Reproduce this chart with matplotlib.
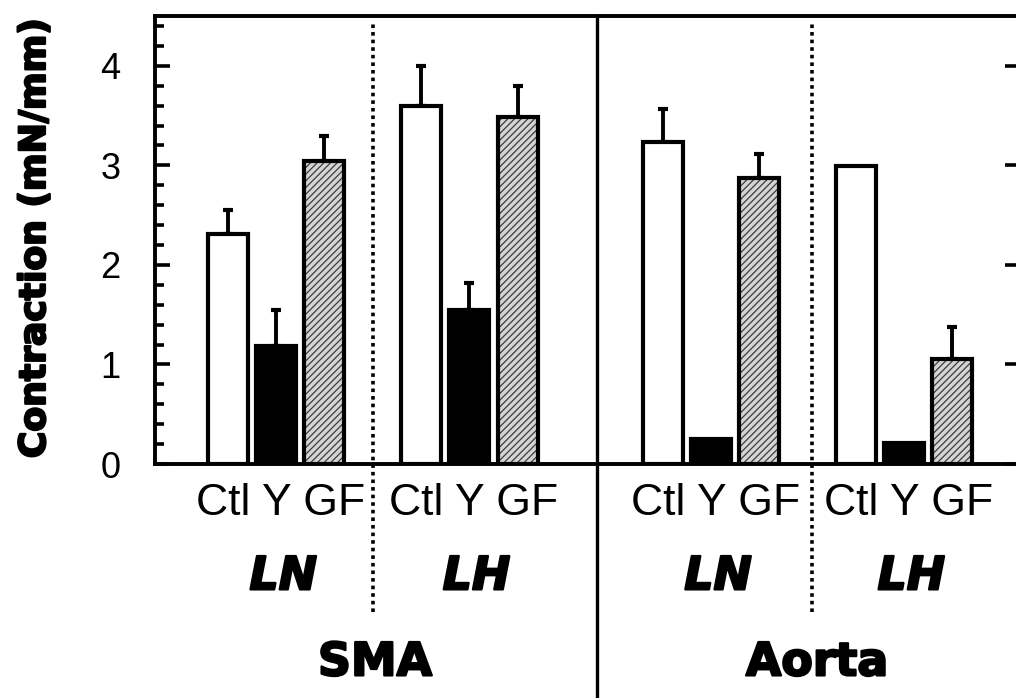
import numpy as np
import matplotlib
matplotlib.use('Agg')
import matplotlib.pyplot as plt
import matplotlib.transforms as mtransforms
import matplotlib.patheffects as pe
from matplotlib.ticker import MultipleLocator

# data (mN/mm), order Ctl, Y, GF
conditions = ['Ctl', 'Y', 'GF']
diets = ['LN', 'LH', 'LN', 'LH']
tissues = ['SMA', 'Aorta']

sma_ln = [2.31, 1.19, 3.04]
sma_ln_err = [0.24, 0.36, 0.26]
sma_lh = [3.60, 1.55, 3.49]
sma_lh_err = [0.40, 0.27, 0.31]
aorta_ln = [3.23, 0.25, 2.87]
aorta_ln_err = [0.34, 0.0, 0.24]
aorta_lh = [2.99, 0.21, 1.06]
aorta_lh_err = [0.0, 0.0, 0.32]

values = [sma_ln, sma_lh, aorta_ln, aorta_lh]
errors = [sma_ln_err, sma_lh_err, aorta_ln_err, aorta_lh_err]
group_start = [0, 4, 9, 13]

faces = ['white', 'black', '#d4d4d4']
W = 0.83
LW = 3.0

plt.rcParams['hatch.linewidth'] = 0.9
heavy = [pe.withStroke(linewidth=1.6, foreground='black')]

fig = plt.figure(figsize=(10.16, 6.98), dpi=100)
ax = fig.add_axes([0.1526, 0.3352, 0.8514, 0.6418])

for g in range(4):
    x = group_start[g] + np.arange(3)
    v = np.array(values[g])
    e = np.array(errors[g])
    for i in range(3):
        if i == 2:
            # hatched fill in grey, then black outline on top
            ax.bar(x[i], v[i], W, color=faces[i], edgecolor='#3c3c3c', linewidth=0,
                   hatch='/////', zorder=2)
            ax.bar(x[i], v[i], W, fill=False, edgecolor='black', linewidth=LW, zorder=3)
        else:
            ax.bar(x[i], v[i], W, color=faces[i], edgecolor='black', linewidth=LW, zorder=3)
    m = e > 0
    ax.errorbar(x[m], v[m], yerr=[np.zeros(m.sum()), e[m]], fmt='none', ecolor='black',
                elinewidth=2.8, capsize=3.8, capthick=3.0, zorder=1)

ax.set_xlim(-1.505, 16.4)
ax.set_ylim(0, 4.5)
ax.set_xticks([])
ax.yaxis.set_major_locator(MultipleLocator(1))
ax.yaxis.set_minor_locator(MultipleLocator(0.2))
ax.tick_params(axis='y', which='major', direction='in', length=11, width=2.6,
               right=True, pad=25, labelsize=26)
ax.tick_params(axis='y', which='minor', direction='in', length=6.5, width=2.6, right=False)
for lab in ax.get_yticklabels():
    lab.set_fontfamily('Liberation Sans')
for s in ax.spines.values():
    s.set_linewidth(2.8)

# separators
ax.axvline(7.65, ymin=-0.6, ymax=1, color='black', lw=2.4, clip_on=False, zorder=5)
for xs in [3.0, 12.1]:
    ax.axvline(xs, ymin=-0.33, ymax=0.99, color='black', lw=2.6,
               linestyle=(0, (1, 1.1)), clip_on=False, zorder=5)

trans = mtransforms.blended_transform_factory(ax.transData, ax.transAxes)
for g in range(4):
    c = group_start[g] + 1
    ax.text(c + 0.09, -0.087, ' '.join(conditions), transform=trans, ha='center', va='center',
            fontsize=32, family='Liberation Sans')
    ax.text(c + 0.15, -0.252, diets[g], transform=trans, ha='center', va='center',
            fontsize=33, fontweight='bold', style='italic', family='DejaVu Sans',
            path_effects=heavy)

ax.text(3.05, -0.444, tissues[0], transform=trans, ha='center', va='center',
        fontsize=33, fontweight='bold', family='DejaVu Sans', path_effects=heavy)
ax.text(12.2, -0.444, tissues[1], transform=trans, ha='center', va='center',
        fontsize=33, fontweight='bold', family='DejaVu Sans', path_effects=heavy)

fig.text(35 / 1016, 1 - 238 / 698, 'Contraction (mN/mm)', rotation=90, ha='center', va='center',
         fontsize=26, fontweight='bold', family='DejaVu Sans', path_effects=heavy)

fig.savefig('out.png', dpi=100)
